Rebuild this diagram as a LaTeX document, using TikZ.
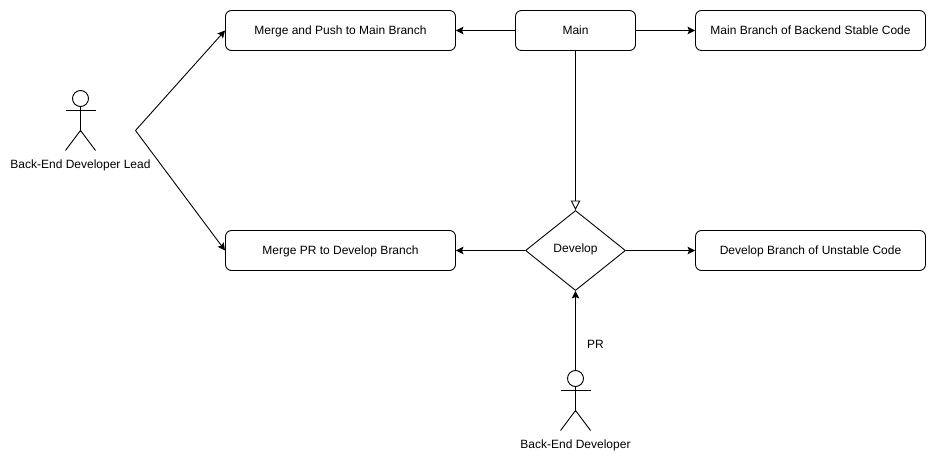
\documentclass[tikz,border=0pt]{standalone}
\usepackage{fontspec}
\setmainfont{Liberation Sans}
\usetikzlibrary{arrows.meta,shapes.geometric}

\tikzset{
	stepbox/.style = {draw, rounded corners = 6, minimum width = 230, minimum height = 40, inner sep = 0, text height = 9, text depth = 0, font = \fontsize{12}{14}\selectfont},
	mainbox/.style = {stepbox, minimum width = 120},
	label/.style = {inner sep = 0, text height = 9, text depth = 0, font = \fontsize{12}{14}\selectfont},
	flow/.style = {-{Stealth[length = 7.5, width = 7.5, inset = 1.5]}},
	inherit/.style = {-{Triangle[open, length = 9.5, width = 9.5]}}
}

\begin{document}
\begin{tikzpicture}[x = 1pt, y = -1pt, line width = 0.9pt]
\useasboundingbox (-0.5,-0.5) rectangle (935.5,461.5);

\node[stepbox] (mergemain) at (340,30) {Merge and Push to Main Branch};
\node[mainbox] (main) at (575,30) {Main};
\node[stepbox] (stable) at (810,30) {Main Branch of Backend Stable Code};
\node[stepbox] (mergedev) at (340,250) {Merge PR to Develop Branch};
\node[stepbox] (unstable) at (810,250) {Develop Branch of Unstable Code};

\node[draw, diamond, aspect = 1.25, minimum width = 100, minimum height = 80, inner sep = 0] (develop) at (575,250) {};
\node[label] (developtext) at (575,247) {Develop};

% lead
\node[draw, circle, minimum size = 16, inner sep = 0] (leadhead) at (80,98) {};
\coordinate (leadhip) at (80,130);
\draw (leadhead.south) -- (leadhip);
\draw (65,110) -- (95,110);
\draw (65,150) -- (leadhip) -- (95,150);
\node[label] (leadtext) at (80,163.5) {Back-End Developer Lead};

% developer
\node[draw, circle, minimum size = 16, inner sep = 0] (devhead) at (575,378) {};
\coordinate (devhip) at (575,410);
\draw (devhead.south) -- (devhip);
\draw (560,390) -- (590,390);
\draw (560,430) -- (devhip) -- (590,430);
\node[label] (devtext) at (575,443.5) {Back-End Developer};

\coordinate (leadfork) at (135,130);
\draw[flow] (leadfork) -- (mergemain.west);
\draw[flow] (leadfork) -- (mergedev.west);

\draw[flow] (main) -- (mergemain);
\draw[flow] (main) -- (stable);
\draw[inherit] (main) -- (develop.north);
\draw[flow] (develop.west) -- (mergedev);
\draw[flow] (develop.east) -- (unstable);
\draw[flow] (devhead.north) -- (develop.south) node[label, pos = 0.33, xshift = 20] (prtext) {PR};
\end{tikzpicture}
\end{document}
